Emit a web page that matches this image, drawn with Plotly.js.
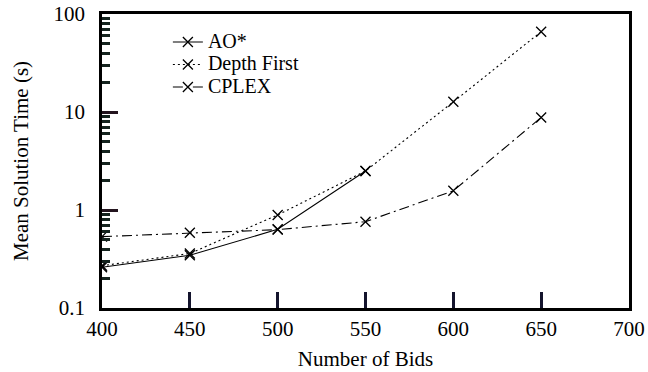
<!DOCTYPE html>
<html>
<head>
<meta charset="utf-8">
<script src="https://cdn.plot.ly/plotly-3.0.1.min.js"></script>
<style>html,body{margin:0;padding:0;background:#fff;}#chart{width:648px;height:372px;}</style>
</head>
<body>
<div id="chart"></div>
<script>
const bids = [400, 450, 500, 550, 600, 650];
const aoStarBids = [400, 450, 500, 550];
const aoStar = [0.26, 0.345, 0.635, 2.5];
const depthFirst = [0.27, 0.36, 0.89, 2.5, 12.7, 66];
const cplex = [0.535, 0.585, 0.63, 0.76, 1.57, 8.8];
const seriesNames = ['AO*', 'Depth First', 'CPLEX'];
const yTickVals = [0.1, 1, 10, 100];
const yTickText = ['0.1', '1', '10', '100'];
const xTickVals = [400, 450, 500, 550, 600, 650, 700];

const FONT = '"Liberation Serif", "Times New Roman", serif';
const INK = '#000';
const TICK = 'rgb(20,20,45)';
const YTICK = 'rgb(35,20,30)';
const YMINOR = 'rgb(20,35,30)';
const marker = {symbol: 'x-thin', size: 10, color: INK, line: {color: INK, width: 1.3}};
function nm(s) { return '<span style="font-size:20px">' + s + '</span>'; }

const traces = [
  {x: aoStarBids, y: aoStar, name: nm(seriesNames[0]), mode: 'lines+markers',
   line: {color: INK, width: 1.1, dash: 'solid'}, marker: marker},
  {x: bids, y: depthFirst, name: nm(seriesNames[1]), mode: 'lines+markers',
   line: {color: INK, width: 1.1, dash: '2px,3px'}, marker: marker},
  {x: bids, y: cplex, name: nm(seriesNames[2]), mode: 'lines+markers',
   line: {color: INK, width: 1.1, dash: '10px,4px,2px,4px'}, marker: marker}
];

const layout = {
  width: 648, height: 372,
  margin: {l: 102, r: 19, t: 14, b: 64},
  paper_bgcolor: '#fff', plot_bgcolor: '#fff',
  font: {family: FONT, size: 21, color: INK},
  showlegend: true,
  legend: {x: 0.125, y: 0.96, xanchor: 'left', yanchor: 'top',
           bgcolor: 'rgba(0,0,0,0)', font: {family: FONT, size: 15, color: INK},
           itemwidth: 30, tracegroupgap: 0},
  xaxis: {
    range: [400, 700], tickmode: 'array', tickvals: xTickVals,
    ticks: 'inside', ticklen: 16, tickwidth: 3, tickcolor: TICK,
    showline: true, linewidth: 2.5, linecolor: INK, mirror: true,
    showgrid: false, zeroline: false,
    tickfont: {family: FONT, size: 21},
    title: {text: 'Number of Bids', font: {family: FONT, size: 21}, standoff: 12}
  },
  yaxis: {
    type: 'log', range: [-1, 2], tickmode: 'array', tickvals: yTickVals, ticktext: yTickText,
    ticks: 'inside', ticklen: 16, tickwidth: 3, tickcolor: YTICK,
    minor: {ticks: 'inside', ticklen: 8, tickwidth: 2.5, tickcolor: YMINOR, dtick: 'D1', showgrid: false},
    showline: true, linewidth: 2.5, linecolor: INK, mirror: true,
    showgrid: false, zeroline: false,
    tickfont: {family: FONT, size: 21},
    ticklabelstandoff: 10,
    title: {text: 'Mean Solution Time (s)', font: {family: FONT, size: 21}, standoff: 20}
  }
};

Plotly.newPlot('chart', traces, layout, {displayModeBar: false});
</script>
</body>
</html>
